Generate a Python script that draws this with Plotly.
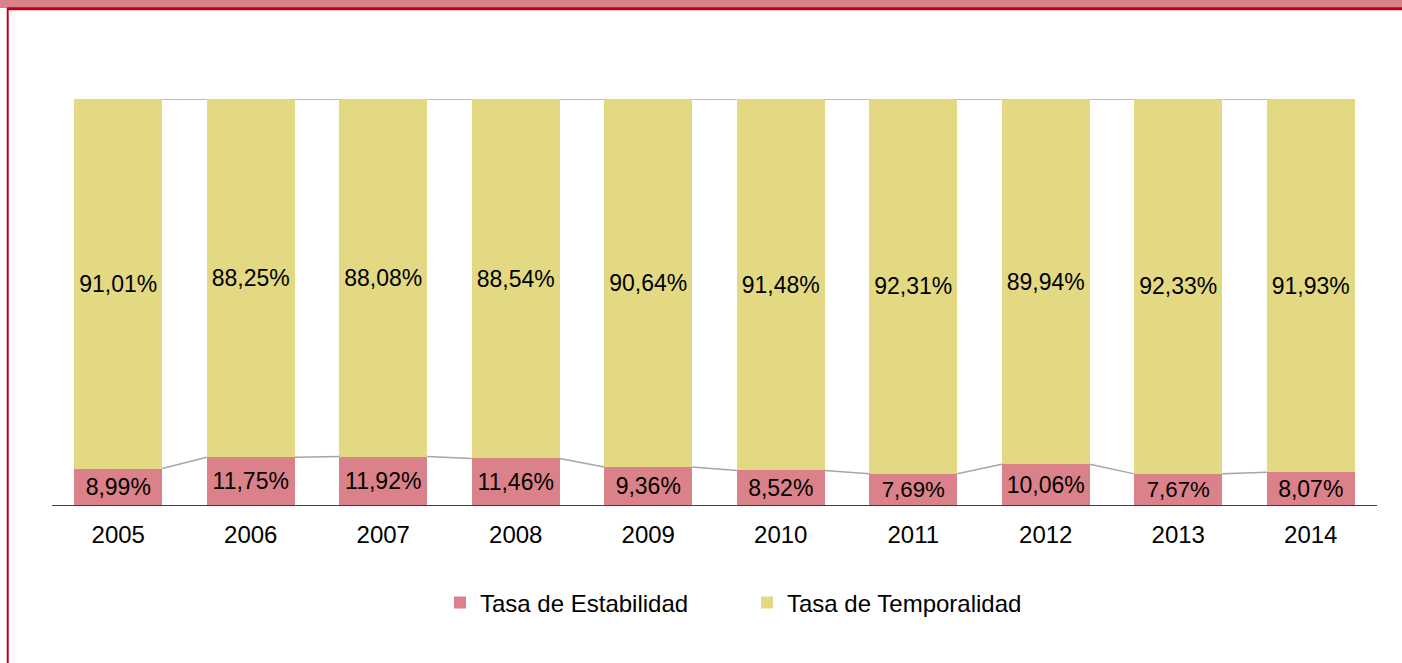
import plotly.graph_objects as go

years = ['2005', '2006', '2007', '2008', '2009', '2010', '2011', '2012', '2013', '2014']
estabilidad = [8.99, 11.75, 11.92, 11.46, 9.36, 8.52, 7.69, 10.06, 7.67, 8.07]
temporalidad = [91.01, 88.25, 88.08, 88.54, 90.64, 91.48, 92.31, 89.94, 92.33, 91.93]

PINK = '#db8189'
YELLOW = '#e3d983'
DARKRED = '#c0001a'
FONT = 'Liberation Sans, Arial, sans-serif'

W, H = 1402, 663
L, R, T, B = 52, 25, 99, 158
BAR_W = 0.664


def fmt(v):
    return f'{v:.2f}'.replace('.', ',') + '%'


def px_x(x):
    return (x - L) / (W - L - R)


def px_y(y):
    return (H - B - y) / (H - T - B)


idx = list(range(len(years)))

fig = go.Figure()
fig.add_trace(go.Bar(
    x=idx, y=estabilidad, name='Tasa de Estabilidad',
    marker=dict(color=PINK, line=dict(width=0)), width=BAR_W,
    text=[fmt(v) for v in estabilidad], textposition='inside',
    insidetextanchor='middle', textangle=0,
    textfont=dict(size=23, color='black', family=FONT),
))
fig.add_trace(go.Bar(
    x=idx, y=temporalidad, name='Tasa de Temporalidad',
    marker=dict(color=YELLOW, line=dict(width=0)), width=BAR_W,
    text=[fmt(v) for v in temporalidad], textposition='inside',
    insidetextanchor='middle', textangle=0,
    textfont=dict(size=23, color='black', family=FONT),
))

# lineas de serie entre barras
lx, ly = [], []
for tops in (estabilidad, [e + t for e, t in zip(estabilidad, temporalidad)]):
    for i in range(len(years) - 1):
        lx += [i + BAR_W / 2, i + 1 - BAR_W / 2, None]
        ly += [tops[i], tops[i + 1], None]
fig.add_trace(go.Scatter(x=lx, y=ly, mode='lines', showlegend=False,
                         line=dict(color='#a6a6a6', width=1.5), hoverinfo='skip'))

fig.update_layout(
    barmode='stack',
    width=W, height=H,
    margin=dict(l=L, r=R, t=T, b=B),
    paper_bgcolor='white', plot_bgcolor='white',
    font=dict(family=FONT, size=23, color='black'),
    showlegend=True,
    legend=dict(orientation='h', x=px_x(440), y=px_y(603), xanchor='left', yanchor='middle',
                font=dict(size=24, family=FONT), entrywidth=262, entrywidthmode='pixels',
                traceorder='normal'),
    shapes=[
        dict(type='rect', xref='paper', yref='paper', x0=px_x(0), x1=px_x(W),
             y0=px_y(0), y1=px_y(8), fillcolor='#db838c', line=dict(width=0), layer='above'),
        dict(type='line', xref='paper', yref='paper', x0=px_x(7.7), x1=px_x(W),
             y0=px_y(8.7), y1=px_y(8.7), line=dict(color=DARKRED, width=3)),
        dict(type='line', xref='paper', yref='paper', x0=px_x(7.7), x1=px_x(7.7),
             y0=px_y(7.5), y1=px_y(H), line=dict(color=DARKRED, width=2)),
    ],
)
fig.update_xaxes(range=[-0.5, len(years) - 0.5], tickvals=idx, ticktext=years,
                 showline=True, linecolor='#404040', linewidth=1, showgrid=False,
                 ticks='', tickfont=dict(size=24), ticklabelstandoff=8, zeroline=False)
fig.update_yaxes(range=[0, 100], visible=False)

fig.write_html('out.html', config={'displayModeBar': False},
               post_script="document.body.style.margin='0';")
